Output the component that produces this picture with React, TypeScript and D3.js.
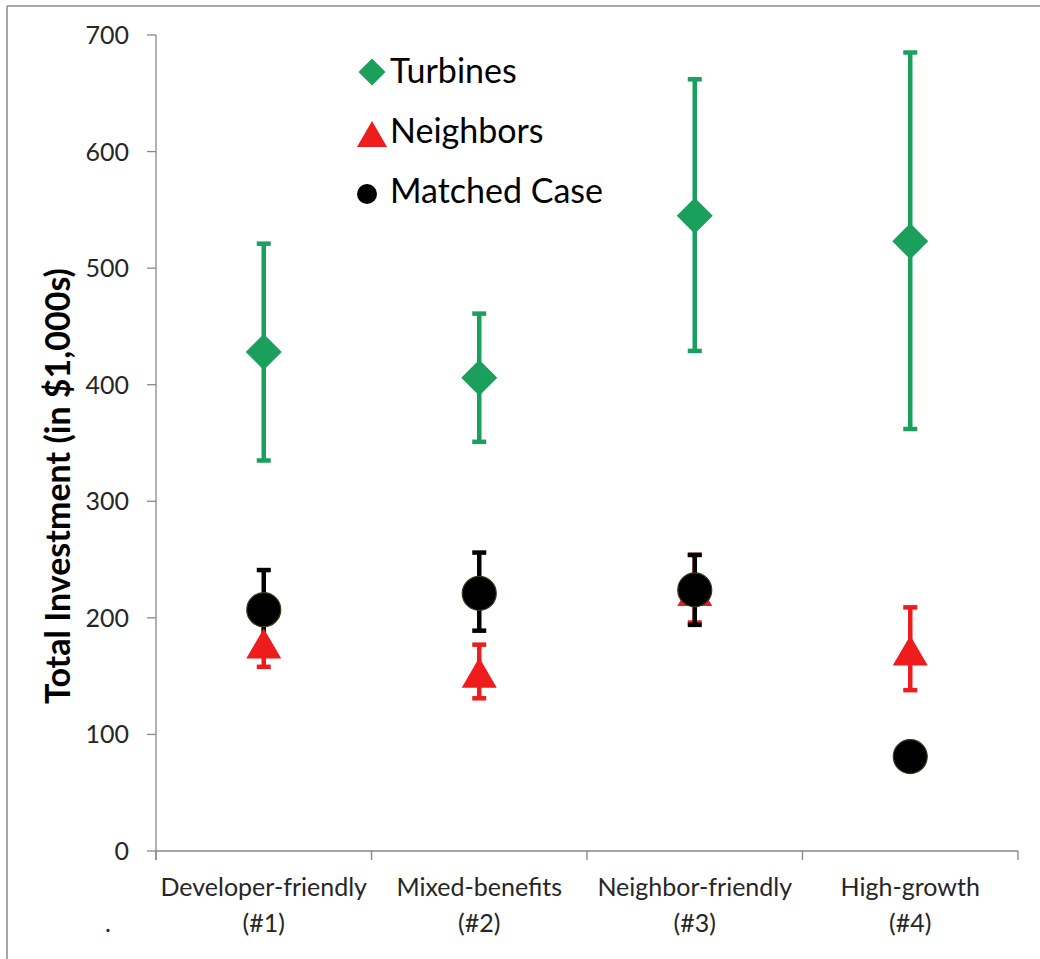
import React from "react";
import * as d3 from "d3";

const categories = ["Developer-friendly|(#1)", "Mixed-benefits|(#2)", "Neighbor-friendly|(#3)", "High-growth|(#4)"];
const yTicks = [0, 100, 200, 300, 400, 500, 600, 700];

const turbines = [428, 406, 545, 523];
const turbinesLow = [335, 351, 429, 362];
const turbinesHigh = [521, 461, 662, 685];

const neighbors = [178, 153, 223, 172];
const neighborsLow = [158, 131, 196, 138];
const neighborsHigh = [198, 177, 254, 209];

const matched = [207, 221, 224, 81];
const matchedLow = [173, 189, 194, 81];
const matchedHigh = [241, 256, 254, 81];

const FONT = "Lato, 'Open Sans', sans-serif";
const GREEN = "#1a9f5c";
const RED = "#ee1c1c";

const triangleType = {
  draw(ctx: any, size: number) {
    const w = Math.sqrt(size);
    const h = w * 0.86;
    ctx.moveTo(0, -h / 2);
    ctx.lineTo(w / 2, h / 2);
    ctx.lineTo(-w / 2, h / 2);
    ctx.closePath();
  },
};
const diamondType = {
  draw(ctx: any, size: number) {
    const r = Math.sqrt(size) / 2;
    ctx.moveTo(0, -r);
    ctx.lineTo(r, 0);
    ctx.lineTo(0, r);
    ctx.lineTo(-r, 0);
    ctx.closePath();
  },
};

export default function App() {
  const W = 1040, H = 959;
  const x = d3.scaleBand<string>().domain(categories).range([156, 1018]);
  const y = d3.scaleLinear().domain([0, 700]).range([851, 35]);
  const cx = (i: number) => (x(categories[i]) as number) + x.bandwidth() / 2;

  const diamond = d3.symbol().type(diamondType as any);
  const tri = d3.symbol().type(triangleType as any);

  const errBar = (i: number, lo: number, hi: number, color: string, key: string) => (
    <g key={key} stroke={color} strokeWidth={4.5}>
      <line x1={cx(i)} x2={cx(i)} y1={y(lo)} y2={y(hi)} />
      <line x1={cx(i) - 7} x2={cx(i) + 7} y1={y(lo)} y2={y(lo)} />
      <line x1={cx(i) - 7} x2={cx(i) + 7} y1={y(hi)} y2={y(hi)} />
    </g>
  );

  const xTickPositions = [...categories.map((c) => x(c) as number), 1018];

  return (
    <svg width={W} height={H} style={{ position: "absolute", left: 0, top: 0, background: "#fff" }} fontFamily={FONT}>
      <rect x={0} y={0} width={W} height={H} fill="#fff" />
      <line x1={7} x2={7} y1={6} y2={H} stroke="#8a8a8a" strokeWidth={1.5} />
      <line x1={7} x2={W} y1={6} y2={6} stroke="#8a8a8a" strokeWidth={1.5} />

      <g stroke="#878787" strokeWidth={1.3}>
        <line x1={156} x2={156} y1={y(700)} y2={860} />
        <line x1={156} x2={1018} y1={y(0)} y2={y(0)} />
        {yTicks.map((t) => (
          <line key={t} x1={147} x2={156} y1={y(t)} y2={y(t)} />
        ))}
        {xTickPositions.map((p, i) => (
          <line key={i} x1={p} x2={p} y1={y(0)} y2={860} />
        ))}
      </g>
      {yTicks.map((t) => (
        <text key={t} x={129} y={y(t)} dy="0.36em" textAnchor="end" fontSize={25} fill="#262626">
          {t}
        </text>
      ))}
      {categories.map((c, i) => {
        const [a, b] = c.split("|");
        return (
          <text key={c} x={cx(i)} textAnchor="middle" fontSize={25} fill="#262626">
            <tspan x={cx(i)} y={896}>{a}</tspan>
            <tspan x={cx(i)} y={932}>{b}</tspan>
          </text>
        );
      })}
      <text x={108} y={932} textAnchor="middle" fontSize={25} fill="#262626">.</text>

      <text transform={`translate(70,${486}) rotate(-90)`} textAnchor="middle" fontSize={34} fontWeight="bold" fill="#000">
        Total Investment (in $1,000s)
      </text>

      {turbines.map((v, i) => errBar(i, turbinesLow[i], turbinesHigh[i], GREEN, "te" + i))}
      {neighbors.map((v, i) => errBar(i, neighborsLow[i], neighborsHigh[i], RED, "ne" + i))}
      {matched.map((v, i) => (matchedHigh[i] > matchedLow[i] ? errBar(i, matchedLow[i], matchedHigh[i], "#000", "me" + i) : null))}

      {turbines.map((v, i) => (
        <path key={"t" + i} d={diamond.size(36 * 36)() as string} transform={`translate(${cx(i)},${y(v)})`} fill={GREEN} />
      ))}
      {neighbors.map((v, i) => (
        <path key={"n" + i} d={tri.size(35 * 35)() as string} transform={`translate(${cx(i)},${y(v)})`} fill={RED} />
      ))}
      {matched.map((v, i) => (
        <circle key={"m" + i} cx={cx(i)} cy={y(v)} r={17} fill="#000" stroke="#3b3b1a" strokeWidth={1.2} />
      ))}

      <path d={diamond.size(27 * 27)() as string} transform="translate(372,72)" fill={GREEN} />
      <text x={390} y={83} fontSize={34} fill="#000">Turbines</text>
      <path d={tri.size(30 * 30)() as string} transform="translate(372,134)" fill={RED} />
      <text x={390} y={143} fontSize={34} fill="#000">Neighbors</text>
      <circle cx={367} cy={194} r={10} fill="#000" />
      <text x={390} y={203} fontSize={34} fill="#000">Matched Case</text>
    </svg>
  );
}
